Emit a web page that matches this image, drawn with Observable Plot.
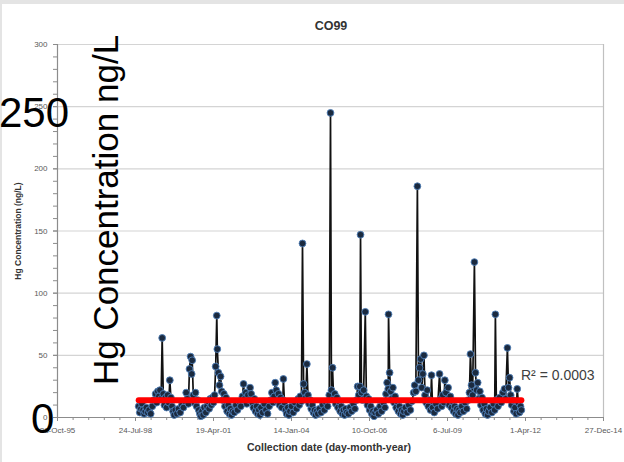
<!DOCTYPE html>
<html>
<head>
<meta charset="utf-8">
<script src="https://cdn.jsdelivr.net/npm/d3@7"></script>
<script src="https://cdn.jsdelivr.net/npm/@observablehq/plot@0.6"></script>
<style>
  html, body { margin: 0; padding: 0; background: #fff; }
  #wrap { position: relative; width: 624px; height: 462px; overflow: hidden; background: #fff; }
  #wrap > svg { position: absolute; left: 0; top: 0; }
  #frame { position: absolute; left: 0; top: 0; width: 624px; height: 462px; box-sizing: border-box;
           border-top: 4px solid #e4e4e4; border-left: 2px solid #e4e4e4; pointer-events: none; }
</style>
</head>
<body>
<div id="wrap"><div id="frame"></div></div>
<script>
// ---- Data ----
const title = "CO99";
const xTitle = "Collection date (day-month-year)";
const yTitle = "Hg Concentration (ng/L)";
const r2Label = "R\u00B2 = 0.0003";
const overlayTop = "250";
const overlayMid = "Hg Concentration ng/L";
const overlayBottom = "0";

const yTicks = [0, 50, 100, 150, 200, 250, 300];
const xTickDates = ["1995-10-28", "1998-07-24", "2001-04-19", "2004-01-14",
                    "2006-10-10", "2009-07-06", "2012-04-01", "2014-12-27"];

// linear trend line as drawn in the reference (start / end)
const trendDates = ["1998-09-03", "2012-02-08"];
const trendValues = [13.8, 13.8];

const hgSamples = [
  ["1998-09-03",9],["1998-09-17",4],["1998-10-01",7],["1998-10-15",11],["1998-10-29",6],["1998-11-12",3],["1998-11-26",5],["1998-12-10",8],["1998-12-28",4],
  ["1999-01-14",6],["1999-02-04",3],["1999-02-25",9],["1999-03-18",14],["1999-04-08",19],["1999-04-22",12],["1999-05-06",21],["1999-05-20",17],["1999-06-03",22],["1999-06-17",15],["1999-07-01",64],["1999-07-15",19],["1999-07-29",10],["1999-08-12",16],["1999-08-26",8],["1999-09-09",18],["1999-09-23",12],["1999-10-07",30],["1999-10-21",16],["1999-11-04",9],["1999-11-18",5],["1999-12-02",2],["1999-12-16",6],
  ["2000-01-06",3],["2000-01-27",7],["2000-02-17",4],["2000-03-09",10],["2000-03-30",8],["2000-04-20",13],["2000-05-04",20],["2000-05-18",15],["2000-06-01",11],["2000-06-15",39],["2000-06-29",49],["2000-07-13",35],["2000-07-20",46],["2000-08-03",18],["2000-08-17",12],["2000-08-31",20],["2000-09-14",9],["2000-09-28",14],["2000-10-12",6],["2000-10-26",3],["2000-11-09",1],["2000-11-23",5],["2000-12-07",2],["2000-12-21",8],
  ["2001-01-11",4],["2001-01-25",9],["2001-02-08",13],["2001-02-22",7],["2001-03-08",15],["2001-03-22",10],["2001-04-05",16],["2001-04-19",12],["2001-05-03",18],["2001-05-17",41],["2001-05-31",82],["2001-06-07",55],["2001-06-21",36],["2001-07-05",26],["2001-07-19",33],["2001-08-02",21],["2001-08-16",14],["2001-08-30",19],["2001-09-13",9],["2001-09-27",16],["2001-10-11",5],["2001-10-25",10],["2001-11-08",3],["2001-11-22",7],["2001-12-06",2],["2001-12-20",5],
  ["2002-01-10",4],["2002-01-31",10],["2002-02-21",6],["2002-03-14",13],["2002-04-04",9],["2002-04-25",17],["2002-05-09",27],["2002-05-23",15],["2002-06-06",20],["2002-06-20",11],["2002-07-04",18],["2002-07-18",14],["2002-08-01",24],["2002-08-15",19],["2002-08-29",12],["2002-09-12",8],["2002-09-26",15],["2002-10-10",5],["2002-10-24",9],["2002-11-07",3],["2002-11-21",6],["2002-12-05",2],["2002-12-19",8],
  ["2003-01-09",4],["2003-01-30",11],["2003-02-20",6],["2003-03-13",3],["2003-04-03",9],["2003-04-24",14],["2003-05-08",20],["2003-05-22",12],["2003-06-05",17],["2003-06-19",28],["2003-07-03",22],["2003-07-17",13],["2003-07-31",19],["2003-08-14",10],["2003-08-28",16],["2003-09-11",8],["2003-09-25",14],["2003-10-02",31],["2003-10-16",12],["2003-10-30",6],["2003-11-13",3],["2003-11-27",8],["2003-12-11",2],["2003-12-25",5],
  ["2004-01-15",9],["2004-02-05",4],["2004-02-26",12],["2004-03-18",7],["2004-04-08",15],["2004-04-22",10],["2004-05-06",17],["2004-05-20",13],["2004-06-03",140],["2004-06-17",27],["2004-07-01",20],["2004-07-15",16],["2004-07-29",43],["2004-08-12",18],["2004-08-26",11],["2004-09-09",14],["2004-09-23",7],["2004-10-07",10],["2004-10-21",4],["2004-11-04",6],["2004-11-18",2],["2004-12-02",5],["2004-12-16",3],
  ["2005-01-06",7],["2005-01-27",4],["2005-02-17",10],["2005-03-10",6],["2005-03-31",12],["2005-04-21",9],["2005-05-12",18],["2005-05-28",245],["2005-06-09",22],["2005-06-23",40],["2005-07-07",15],["2005-07-21",19],["2005-08-04",11],["2005-08-18",16],["2005-09-01",8],["2005-09-15",13],["2005-09-29",5],["2005-10-13",9],["2005-10-27",3],["2005-11-10",6],["2005-11-24",2],["2005-12-08",7],["2005-12-22",4],
  ["2006-01-12",3],["2006-02-02",8],["2006-02-23",5],["2006-03-16",11],["2006-04-06",7],["2006-04-27",14],["2006-05-11",25],["2006-05-25",18],["2006-06-08",25],["2006-06-17",147],["2006-06-29",20],["2006-07-13",14],["2006-07-27",22],["2006-08-17",85],["2006-08-31",17],["2006-09-14",10],["2006-09-28",15],["2006-10-12",6],["2006-10-26",9],["2006-11-09",3],["2006-11-23",5],["2006-12-07",1],["2006-12-21",4],
  ["2007-01-11",6],["2007-02-01",3],["2007-02-22",9],["2007-03-15",5],["2007-04-05",12],["2007-04-26",8],["2007-05-10",19],["2007-05-24",28],["2007-06-07",23],["2007-06-11",83],["2007-06-25",36],["2007-07-09",21],["2007-07-23",15],["2007-08-06",24],["2007-08-20",12],["2007-09-03",17],["2007-09-17",8],["2007-10-01",13],["2007-10-15",5],["2007-10-29",9],["2007-11-12",3],["2007-11-26",6],["2007-12-10",2],["2007-12-24",5],
  ["2008-01-14",8],["2008-02-04",4],["2008-02-25",10],["2008-03-17",6],["2008-04-07",13],["2008-04-28",20],["2008-05-12",26],["2008-05-26",21],["2008-06-15",186],["2008-06-29",30],["2008-07-13",40],["2008-07-27",47],["2008-08-10",24],["2008-08-24",35],["2008-09-07",50],["2008-09-21",18],["2008-10-05",12],["2008-10-19",22],["2008-11-02",9],["2008-11-16",14],["2008-11-30",6],["2008-12-13",34],["2008-12-27",8],
  ["2009-01-17",4],["2009-02-07",11],["2009-02-28",7],["2009-03-26",35],["2009-04-09",15],["2009-04-23",9],["2009-05-07",18],["2009-05-21",12],["2009-06-02",30],["2009-06-16",20],["2009-06-30",14],["2009-07-14",24],["2009-07-28",10],["2009-08-11",17],["2009-08-25",8],["2009-09-08",13],["2009-09-22",5],["2009-10-06",9],["2009-10-20",3],["2009-11-03",7],["2009-11-17",2],["2009-12-01",6],["2009-12-15",4],
  ["2010-01-05",9],["2010-01-26",5],["2010-02-16",12],["2010-03-09",7],["2010-03-30",14],["2010-04-13",20],["2010-04-26",51],["2010-05-10",26],["2010-05-24",18],["2010-06-16",125],["2010-06-30",36],["2010-07-14",22],["2010-07-28",28],["2010-08-11",15],["2010-08-25",21],["2010-09-08",10],["2010-09-22",16],["2010-10-06",6],["2010-10-20",11],["2010-11-03",3],["2010-11-17",7],["2010-12-01",2],["2010-12-15",5],
  ["2011-01-05",8],["2011-01-26",4],["2011-02-16",11],["2011-03-03",6],["2011-03-12",83],["2011-03-24",14],["2011-04-14",9],["2011-05-05",16],["2011-05-26",12],["2011-06-16",20],["2011-07-07",23],["2011-07-21",15],["2011-08-13",56],["2011-08-27",24],["2011-09-10",32],["2011-09-24",18],["2011-10-08",10],["2011-10-22",14],["2011-11-05",5],["2011-11-19",8],["2011-12-03",3],["2011-12-17",23],["2011-12-31",12],
  ["2012-01-14",4],["2012-01-28",9],["2012-02-08",6]
];

// ---- Build ----
const parse = d => new Date(d + "T00:00:00Z");
const data = hgSamples.map(([d, v]) => ({date: parse(d), hg: v}));
const trend = trendDates.map((d, i) => ({date: parse(d), hg: trendValues[i]}));
const xMajor = xTickDates.map(parse);
const xMinor = [];
for (let i = 0; i < xMajor.length - 1; i++)
  for (let k = 1; k < 5; k++) xMinor.push(d3.utcDay.offset(xMajor[i], 200 * k));
const yMinor = d3.range(0, 301, 10);
const fmt = d3.utcFormat("%-d-%b-%y");
const ff = "'Liberation Sans', Arial, sans-serif";

const chart = Plot.plot({
  width: 624, height: 462,
  marginLeft: 57, marginRight: 21, marginTop: 44, marginBottom: 45,
  style: {fontFamily: ff, background: "transparent", color: "#595959"},
  x: {type: "utc", domain: [xMajor[0], xMajor[xMajor.length - 1]]},
  y: {domain: [0, 300]},
  marks: [
    Plot.gridY(yTicks.slice(1), {stroke: "#d4d4d4", strokeOpacity: 1, strokeWidth: 1.2}),
    Plot.ruleX([xMajor[xMajor.length - 1]], {stroke: "#c0c0c0", strokeWidth: 1.2}),
    Plot.axisY({ticks: yMinor, tickSize: 4, tickFormat: () => "", label: null, stroke: "#8c8c8c"}),
    Plot.axisY({ticks: yTicks, tickSize: 4, tickPadding: 6, fontSize: 8, label: null, stroke: "#8c8c8c"}),
    Plot.axisX({ticks: xMinor, tickSize: 3, tickFormat: () => "", label: null, stroke: "#8c8c8c"}),
    Plot.axisX({ticks: xMajor, tickSize: 4, tickPadding: 6, tickFormat: fmt, fontSize: 8, label: null, stroke: "#8c8c8c"}),
    Plot.ruleX([xMajor[0]], {stroke: "#8c8c8c", strokeWidth: 1.2}),
    Plot.ruleY([0], {stroke: "#8c8c8c", strokeWidth: 1.2}),
    Plot.line(data, {x: "date", y: "hg", stroke: "#111", strokeWidth: 1.7}),
    Plot.dot(data, {x: "date", y: "hg", r: 3.4, fill: "#1b2a3f", stroke: "#4f7fb8", strokeWidth: 0.9}),
    Plot.line(trend, {x: "date", y: "hg", stroke: "#ff0000", strokeWidth: 6})
  ]
});
const wrap = document.getElementById("wrap");
wrap.insertBefore(chart, wrap.firstChild);

// ---- Text overlay ----
const ov = d3.select(wrap).append("svg")
  .attr("width", 624).attr("height", 462)
  .style("position", "absolute").style("left", 0).style("top", 0)
  .style("font-family", ff);

ov.append("text").attr("x", 331).attr("y", 30).attr("text-anchor", "middle")
  .attr("font-size", 12.5).attr("font-weight", "bold").attr("fill", "#333").text(title);
ov.append("text").attr("x", 329).attr("y", 451).attr("text-anchor", "middle")
  .attr("font-size", 10.5).attr("font-weight", "bold").attr("fill", "#333").text(xTitle);
ov.append("text").attr("transform", "translate(21,231) rotate(-90)").attr("text-anchor", "middle")
  .attr("font-size", 8.5).attr("font-weight", "bold").attr("fill", "#333").text(yTitle);
ov.append("text").attr("x", 521).attr("y", 380)
  .attr("font-size", 14).attr("fill", "#404040").text(r2Label);

ov.append("text").attr("x", -1).attr("y", 127)
  .attr("font-size", 42).attr("fill", "#000").text(overlayTop);
ov.append("text").attr("transform", "translate(118,210) rotate(-90)").attr("text-anchor", "middle")
  .attr("font-size", 35).attr("fill", "#000").text(overlayMid);
ov.append("text").attr("x", 31).attr("y", 433)
  .attr("font-size", 42).attr("fill", "#000").text(overlayBottom);
</script>
</body>
</html>
